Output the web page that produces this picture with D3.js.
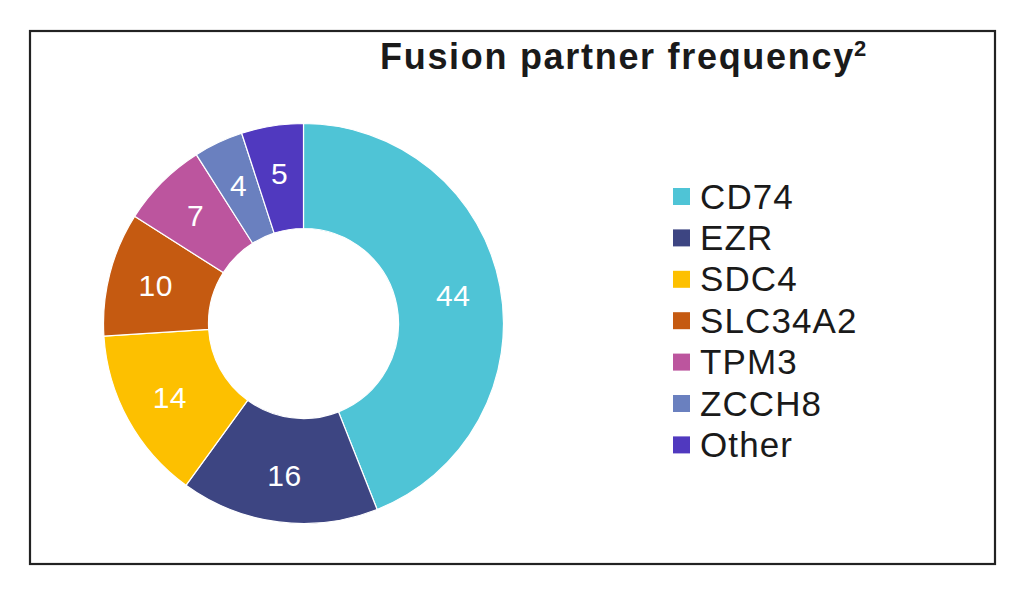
<!DOCTYPE html>
<html><head><meta charset="utf-8">
<script src="https://cdn.jsdelivr.net/npm/d3@7"></script>
<style>html,body{margin:0;padding:0;background:#fff;}svg{display:block;}</style>
</head><body>
<script>
const categories = ["CD74","EZR","SDC4","SLC34A2","TPM3","ZCCH8","Other"];
const values = [44,16,14,10,7,4,5];
const colors = ["#4FC4D6","#3D4582","#FDC000","#C55A11","#BC559E","#6A80BF","#5039BF"];
const title = "Fusion partner frequency";
const titleSup = "2";

const W = 1024, H = 594;
const svg = d3.select("body").append("svg").attr("width", W).attr("height", H);
svg.append("rect").attr("x",30).attr("y",31).attr("width",965).attr("height",533)
  .attr("fill","#fff").attr("stroke","#222").attr("stroke-width",2.2);

const t = svg.append("text").attr("x",380).attr("y",69)
  .attr("font-family","Liberation Sans, Arial, sans-serif").attr("font-weight","bold")
  .attr("font-size",36).attr("fill","#1a1a1a");
t.append("tspan").attr("letter-spacing",1.7).text(title);
t.append("tspan").attr("font-size",22).attr("dy",-13).attr("dx",-1).text(titleSup);

const data = categories.map((c,i)=>({c, v:values[i], col:colors[i]}));
const cx = 303.5, cy = 323.5, R = 200, r0 = 95;
const pie = d3.pie().value(d=>d.v).sort(null);
const arc = d3.arc().innerRadius(r0).outerRadius(R);
const lab = d3.arc().innerRadius(r0+55).outerRadius(R-45);
const g = svg.append("g").attr("transform",`translate(${cx},${cy})`);
const arcs = pie(data);
g.selectAll("path").data(arcs).join("path").attr("d",arc)
  .attr("fill",d=>d.data.col).attr("stroke","#fff").attr("stroke-width",1.2);
g.selectAll("text").data(arcs).join("text")
  .attr("transform",d=>`translate(${lab.centroid(d)})`)
  .attr("text-anchor","middle").attr("dy","0.36em")
  .attr("font-family","Liberation Sans, Arial, sans-serif").attr("font-size",30)
  .attr("letter-spacing",0.5)
  .attr("fill","#fff").text(d=>d.data.v);

const lg = svg.append("g");
const rows = lg.selectAll("g").data(data).join("g")
  .attr("transform",(d,i)=>`translate(673,${196 + i*41.4})`);
rows.append("rect").attr("x",0).attr("y",-8).attr("width",17).attr("height",17).attr("fill",d=>d.col);
rows.append("text").attr("x",27).attr("y",0).attr("dy","0.36em")
  .attr("font-family","Liberation Sans, Arial, sans-serif").attr("font-size",35)
  .attr("letter-spacing",1.1)
  .attr("fill","#1a1a1a").text(d=>d.c);
</script>
</body></html>
